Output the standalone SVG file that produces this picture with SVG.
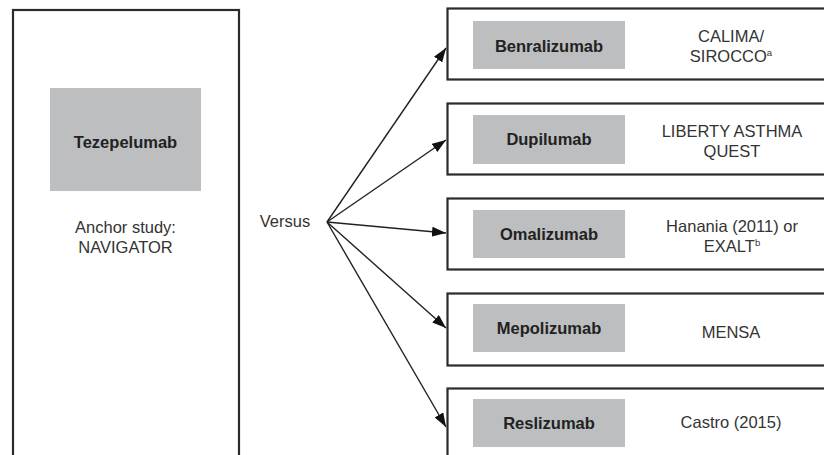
<svg xmlns="http://www.w3.org/2000/svg" width="824" height="455" viewBox="0 0 824 455">
<style>
.frame{fill:#fff;stroke:#2b2b2b;stroke-width:2.2}
.drug{fill:#bcbebf}
.lbl{font-family:"Liberation Sans",Arial,sans-serif;font-size:16.5px;font-weight:bold;fill:#222;text-anchor:middle}
.txt{font-family:"Liberation Sans",Arial,sans-serif;font-size:16.5px;fill:#333;text-anchor:middle}
.sup{font-size:9.5px}
.conn{stroke:#222;stroke-width:1.4;fill:none;marker-end:url(#ah)}
</style>
<defs>
<marker id="ah" viewBox="0 0 14 10" refX="14" refY="5" markerWidth="14" markerHeight="10" markerUnits="userSpaceOnUse" orient="auto">
<path d="M0,0 L14,5 L0,10 z" fill="#111"/>
</marker>
</defs>
<rect width="824" height="455" fill="#fff"/>
<g id="tezepelumab">
<rect class="frame" x="13" y="10" width="226" height="470"/>
<rect class="drug" x="50" y="88" width="151" height="103"/>
<text class="lbl" x="125.5" y="148">Tezepelumab</text>
<text class="txt" x="125.5" y="233">Anchor study:</text>
<text class="txt" x="125.5" y="253">NAVIGATOR</text>
</g>
<g id="versus">
<text class="txt" x="285" y="227">Versus</text>
</g>
<g id="connectors">
<path class="conn" d="M327,222 L446,48"/>
<path class="conn" d="M327,222 L446,140"/>
<path class="conn" d="M327,222 L446,233"/>
<path class="conn" d="M327,222 L446,328"/>
<path class="conn" d="M327,222 L446,427"/>
</g>
<g id="benralizumab">
<rect class="frame" x="447.5" y="8.5" width="400" height="71"/>
<rect class="drug" x="473" y="21" width="152" height="48"/>
<text class="lbl" x="549" y="52">Benralizumab</text>
<text class="txt" x="731" y="41.7">CALIMA/</text>
<text class="txt" x="731" y="61.7">SIROCCO<tspan class="sup" dy="-6">a</tspan></text>
</g>
<g id="dupilumab">
<rect class="frame" x="447.5" y="103.5" width="400" height="71"/>
<rect class="drug" x="473" y="115" width="152" height="49"/>
<text class="lbl" x="549" y="145">Dupilumab</text>
<text class="txt" x="732" y="137">LIBERTY ASTHMA</text>
<text class="txt" x="732" y="157">QUEST</text>
</g>
<g id="omalizumab">
<rect class="frame" x="447.5" y="198.5" width="400" height="71"/>
<rect class="drug" x="473" y="210" width="152" height="48"/>
<text class="lbl" x="549" y="240">Omalizumab</text>
<text class="txt" x="732" y="232">Hanania (2011) or</text>
<text class="txt" x="732" y="252">EXALT<tspan class="sup" dy="-6">b</tspan></text>
</g>
<g id="mepolizumab">
<rect class="frame" x="447.5" y="293.5" width="400" height="72"/>
<rect class="drug" x="473" y="304" width="152" height="48"/>
<text class="lbl" x="549" y="334">Mepolizumab</text>
<text class="txt" x="731" y="338">MENSA</text>
</g>
<g id="reslizumab">
<rect class="frame" x="447.5" y="388.5" width="400" height="100"/>
<rect class="drug" x="473" y="399" width="152" height="48"/>
<text class="lbl" x="549" y="429">Reslizumab</text>
<text class="txt" x="731" y="428">Castro (2015)</text>
</g>
</svg>
